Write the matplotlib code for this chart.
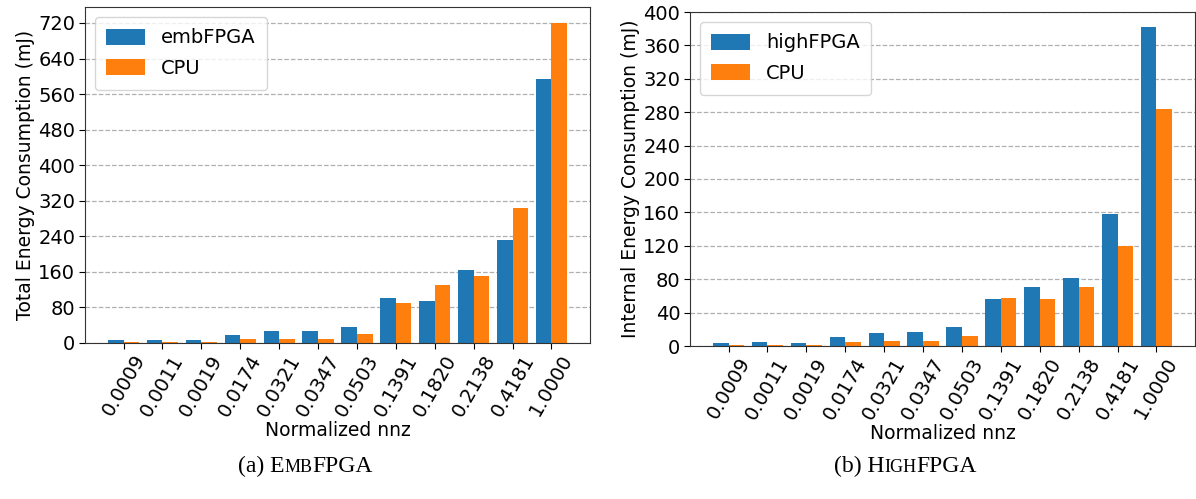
import numpy as np
import matplotlib
matplotlib.use("Agg")
import matplotlib.pyplot as plt
from matplotlib.offsetbox import TextArea, HPacker, AnnotationBbox

nnz_labels = ["0.0009", "0.0011", "0.0019", "0.0174", "0.0321", "0.0347",
              "0.0503", "0.1391", "0.1820", "0.2138", "0.4181", "1.0000"]

# (a) embFPGA vs CPU, total energy (mJ)
emb_fpga = [7.5, 7.5, 7.5, 19, 26, 27, 36, 102, 95, 164, 231, 595]
emb_cpu = [3, 3, 3, 8, 10, 10, 20, 89, 131, 151, 303, 720]

# (b) highFPGA vs CPU, internal energy (mJ)
high_fpga = [3.6, 4.4, 3.6, 10.4, 16, 16.8, 22.7, 56.6, 71, 82, 158, 382]
high_cpu = [1.2, 1.2, 1.2, 4.4, 6, 6, 11.6, 57.4, 55.8, 70.4, 120, 284]

BLUE = "#1f77b4"
ORANGE = "#ff7f0e"

plt.rcParams['font.family'] = ['DejaVu Sans']

fig = plt.figure(figsize=(11.96, 4.99), dpi=100)
W, H = 1196, 499


def px_axes(left, top, right, bottom):
    return fig.add_axes([left / W, 1 - bottom / H, (right - left) / W, (bottom - top) / H])


def draw_panel(ax, fpga, cpu, fpga_name, ylabel, yticks, ylim=None):
    x = np.arange(len(nnz_labels))
    w = 0.4
    ax.bar(x - w / 2, fpga, w, color=BLUE, label=fpga_name)
    ax.bar(x + w / 2, cpu, w, color=ORANGE, label="CPU")
    ax.set_axisbelow(True)
    ax.yaxis.grid(True, linestyle="--", color="#b0b0b0", linewidth=0.9)
    ax.set_yticks(yticks)
    if ylim is not None:
        ax.set_ylim(*ylim)
    ax.set_xticks(x)
    ax.set_xticklabels(nnz_labels, rotation=60)
    ax.tick_params(labelsize=14, length=4, pad=3)
    ax.tick_params(axis="x", pad=2)
    ax.set_xlabel("Normalized nnz", fontsize=13.5, labelpad=1)
    ax.set_ylabel(ylabel, fontsize=13.5, labelpad=2)
    for s in ax.spines.values():
        s.set_color("#333333")
    ax.legend(loc="upper left", fontsize=14, handlelength=2.0, handleheight=0.9,
              borderpad=0.6, labelspacing=0.6, handletextpad=0.8,
              framealpha=0.8, edgecolor="#cccccc")


ax1 = px_axes(85, 7, 590, 343)
draw_panel(ax1, emb_fpga, emb_cpu, "embFPGA", "Total Energy Consumption (mJ)",
           np.arange(0, 721, 80))

ax2 = px_axes(690, 12, 1195, 346)
draw_panel(ax2, high_fpga, high_cpu, "highFPGA", "Internal Energy Consumption (mJ)",
           np.arange(0, 401, 40), ylim=(0, 400))


def caption(cx, cy, parts):
    # small-caps style caption built from pieces of different size
    boxes = [TextArea(t, textprops=dict(fontfamily="Liberation Serif", fontsize=fs))
             for t, fs in parts]
    pack = HPacker(children=boxes, align="baseline", pad=0, sep=0)
    ab = AnnotationBbox(pack, (cx / W, 1 - cy / H), xycoords="figure fraction",
                        frameon=False, box_alignment=(0.5, 0.5))
    fig.add_artist(ab)


caption(305, 466, [("(a) E", 17), ("MB", 13), ("FPGA", 17)])
caption(905, 466, [("(b) H", 17), ("IGH", 13), ("FPGA", 17)])

fig.savefig("out.png", dpi=100)
